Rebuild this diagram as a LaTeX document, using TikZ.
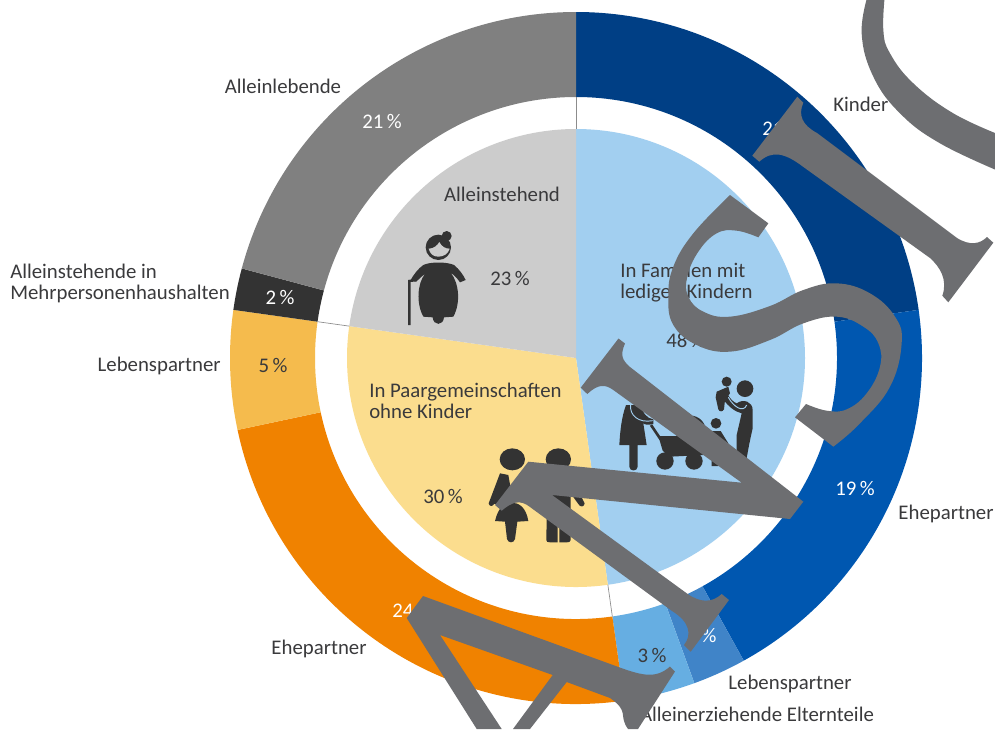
\documentclass[tikz,border=0pt]{standalone}
\usepackage{fontspec}
\setmainfont{Carlito}
\usetikzlibrary{calc}
\definecolor{txt}{HTML}{3A3A3C}
\definecolor{ico}{HTML}{333333}
\definecolor{wm}{HTML}{6D6E71}
\definecolor{rgray}{HTML}{808080}
\definecolor{rdark}{HTML}{333333}
\definecolor{rlorange}{HTML}{F5BB4D}
\definecolor{rorange}{HTML}{F08200}
\definecolor{rlblue}{HTML}{66AEE2}
\definecolor{rmblue}{HTML}{4084C8}
\definecolor{rblue}{HTML}{0057B0}
\definecolor{rnavy}{HTML}{003F85}
\definecolor{pgray}{HTML}{CCCCCC}
\definecolor{pblue}{HTML}{A2CFF0}
\definecolor{pyellow}{HTML}{FBDD8E}
\definecolor{iconline}{HTML}{A2CFF0}
\tikzset{
  lab/.style={text=txt,font=\fontsize{15.6}{15.75}\selectfont,inner sep=0pt,align=left},
  whitelab/.style={lab,text=white},
  watermark/.style={fill=wm,draw=none},
  icon/.style={fill=ico,draw=none},
  divider/.style={draw=black!45,line width=0.5pt}
}
\newcommand{\ringseg}[5]{%
  \fill[#5] ($(576,358)+(#1-90:#3)$) arc[start angle=#1-90,end angle=#2-90,radius=#3*0.75pt]
    -- ($(576,358)+(#2-90:#4)$) arc[start angle=#2-90,end angle=#1-90,radius=#4*0.75pt] -- cycle;}
\newcommand{\pieseg}[4]{%
  \fill[#4] (576,358) -- ($(576,358)+(#1-90:#3)$) arc[start angle=#1-90,end angle=#2-90,radius=#3*0.75pt] -- cycle;}
\begin{document}
\begin{tikzpicture}[x=0.75pt,y=0.75pt,yscale=-1]
\useasboundingbox (0,0) rectangle (995,729);
\clip (0,0) rectangle (995,729);
\fill[white] (0,0) rectangle (995,729);
% outer ring
\ringseg{0}{82}{346}{261}{rnavy}
\ringseg{82}{151}{346}{261}{rblue}
\ringseg{151}{160}{346}{261}{rmblue}
\ringseg{160}{172}{346}{261}{rlblue}
\ringseg{172}{258}{346}{261}{rorange}
\ringseg{258}{278}{346}{261}{rlorange}
\ringseg{278}{285}{346}{261}{rdark}
\ringseg{285}{360}{346}{261}{rgray}
% inner pie
\pieseg{0}{172}{229}{pblue}
\pieseg{172}{278}{229}{pyellow}
\pieseg{278}{360}{229}{pgray}
% dividers across the white gap
\draw[divider] ($(576,358)+(0-90:229)$) -- ($(576,358)+(0-90:261)$);
\draw[divider] ($(576,358)+(172-90:229)$) -- ($(576,358)+(172-90:261)$);
\draw[divider] ($(576,358)+(278-90:229)$) -- ($(576,358)+(278-90:261)$);
% labels
\node[lab] (n1) at (283,86) {Alleinlebende};
\node[whitelab] (n2) at (382,121) {21\,\%};
\node[lab,anchor=west] (n3) at (833,104) {Kinder};
\node[whitelab] (n4) at (782,128) {21\,\%};
\node[lab] (n5) at (502,194) {Alleinstehend};
\node[lab] (n6) at (510,278) {23\,\%};
\node[lab,anchor=west] (n7) at (10,283) {Alleinstehende in\\Mehrpersonenhaushalten};
\node[whitelab] (n8) at (280,297) {2\,\%};
\node[lab,anchor=east] (n9) at (221,366) {Lebenspartner};
\node[lab] (n10) at (273,365) {5\,\%};
\node[lab,anchor=west] (n11) at (620,282.5) {In Familien mit\\ledigen Kindern};
\node[lab] (n12) at (686,340) {48\,\%};
\node[lab,anchor=west] (n13) at (369,400.5) {In Paargemeinschaften\\ohne Kinder};
\node[lab] (n14) at (443,496) {30\,\%};
\node[whitelab] (n15) at (855,488) {19\,\%};
\node[lab] (n16) at (946,514) {Ehepartner};
\node[lab] (n17) at (319,649) {Ehepartner};
\node[whitelab] (n18) at (412,610) {24\,\%};
\node[lab] (n19) at (652,655) {3\,\%};
\node[whitelab] (n20) at (702,635) {2\,\%};
\node[lab] (n21) at (790,684) {Lebenspartner};
\node[lab] (n22) at (757,714) {Alleinerziehende Elternteile};
% grandmother icon
\begin{scope}[shift={(380,200)},scale=1/3]
  \fill[icon] (175,142) circle[radius=38*0.75pt];
  \fill[icon] (200,108) circle[radius=15*0.75pt];
  \fill[pgray] (146,146) .. controls (162,146) and (172,136) .. (178,126) .. controls (185,140) and (196,146) .. (209,146) .. controls (205,162) and (190,170) .. (175,170) .. controls (160,170) and (150,162) .. (146,146) -- cycle;
  \fill[icon] (130,195) .. controls (150,185) and (200,185) .. (222,195) .. controls (238,208) and (250,225) .. (257,240) -- (240,247) .. controls (232,235) and (222,225) .. (212,218) .. controls (238,250) and (242,310) .. (220,350) -- (192,352) .. controls (190,378) and (160,378) .. (158,352) -- (130,350) .. controls (108,310) and (112,250) .. (135,222) .. controls (125,228) and (115,240) .. (108,245) -- (92,240) .. controls (100,225) and (115,205) .. (130,195) -- cycle;
  \fill[icon] (84,375) -- (84,240) -- (110,236) -- (110,244) -- (92,246) -- (92,375) -- cycle;
\end{scope}
% family and couple icons
\begin{scope}[shift={(470,360)},scale=1/3]
  % mother
  \fill[icon] (490,95) circle[radius=25*0.75pt];
  \fill[icon] (468,135) -- (510,135) .. controls (520,160) and (530,175) .. (550,178) -- (550,192) .. controls (535,195) and (525,195) .. (520,190) -- (530,255) -- (503,255) -- (503,320) .. controls (503,335) and (478,335) .. (478,320) -- (478,255) -- (448,255) .. controls (450,215) and (455,170) .. (468,135) -- cycle;
  \draw[iconline,line width=0.7pt] (482,135) .. controls (478,165) and (505,190) .. (548,182);
  % stroller
  \draw[ico,line width=2pt] (543,195) -- (572,238);
  \fill[icon] (565,228) -- (650,228) -- (700,285) -- (600,290) -- (578,272) -- cycle;
  \fill[icon] (662,212) circle[radius=45*0.75pt];
  \fill[icon] (585,303) circle[radius=26*0.75pt];
  \fill[icon] (672,303) circle[radius=26*0.75pt];
  % child
  \fill[icon] (738,190) circle[radius=16*0.75pt];
  \fill[icon] (722,213) -- (752,213) -- (775,250) -- (745,318) -- (725,318) -- (725,250) -- cycle;
  % father and baby
  \fill[icon] (825,86) circle[radius=25*0.75pt];
  \fill[icon] (770,65) circle[radius=15*0.75pt];
  \fill[icon] (740,95) -- (775,80) -- (780,100) -- (765,120) -- (762,148) .. controls (758,156) and (748,156) .. (745,148) -- (737,112) -- cycle;
  \fill[icon] (800,130) .. controls (820,115) and (848,125) .. (848,150) -- (848,205) .. controls (840,240) and (835,265) .. (830,295) -- (800,295) -- (800,225) -- (815,160) .. controls (795,155) and (775,140) .. (760,118) -- (772,102) .. controls (782,118) and (790,126) .. (800,130) -- cycle;
  \draw[iconline,line width=0.7pt] (775,112) .. controls (790,140) and (820,160) .. (830,135);
  % woman of the couple
  \fill[icon] (127,298) ellipse[x radius=38*0.75pt,y radius=33*0.75pt];
  \fill[icon] (90,340) -- (115,345) -- (130,430) -- (100,430) -- (72,432) .. controls (68,440) and (58,440) .. (56,430) -- cycle;
  \fill[icon] (75,483) .. controls (85,440) and (105,428) .. (125,428) .. controls (145,428) and (168,440) .. (175,483) -- (142,485) -- (135,537) .. controls (132,550) and (114,550) .. (111,537) -- (105,485) -- cycle;
  % man of the couple
  \fill[icon] (265,298) ellipse[x radius=38*0.75pt,y radius=33*0.75pt];
  \fill[icon] (232,345) -- (300,345) -- (344,430) .. controls (342,442) and (330,442) .. (325,432) -- (302,400) -- (302,540) .. controls (302,546) and (296,547) .. (290,547) -- (268,547) -- (268,470) -- (263,470) -- (263,547) -- (240,547) .. controls (232,547) and (229,545) .. (229,540) -- cycle;
\end{scope}
% watermark letters
\fill[watermark] (423,596) -- (613,665) .. controls (640,675) and (655,680) .. (670,666.5) -- (675,671.5) -- (638,729) -- (628,729) .. controls (618,715) and (630,712) .. (610,698) -- (566.7,682) -- (530,729) -- (513,729) -- (552.7,675) -- (440,635) -- (501.7,729) -- (476.7,729) -- (406.7,618) -- cycle;
\fill[watermark] (618.5,338.5) -- (625,343.5) .. controls (620,355) and (622,360) .. (630,367) -- (803.3,501.7) -- (790,519) -- (552,495) -- (686.7,593.3) .. controls (700,603) and (712,603) .. (721.7,594) -- (729,600) -- (690.7,651.7) -- (684,645) .. controls (692,635) and (690,622) .. (672,611) -- (530,507) .. controls (520,499) and (512,502) .. (501.7,510.7) -- (495,505) -- (528.3,461.7) -- (741.7,482.7) -- (613.3,390) .. controls (605,384) and (598,384) .. (587.3,394) -- (580.7,387.7) -- cycle;
\begin{scope}[shift={(570,180)},scale=1/3]
  \fill[watermark] (480,45) -- (595,130) -- (565,172)
    -- plot[smooth,tension=0.7] coordinates {(565,172) (500,152) (440,160) (385,215) (352,290) (355,350) (400,395) (480,410) (600,378) (700,330) (800,310) (900,340) (975,410) (995,490) (960,620) (870,730) (790,800)}
    -- (675,712) -- (708,672)
    -- plot[smooth,tension=0.7] coordinates {(708,672) (770,692) (830,688) (890,640) (930,560) (925,490) (880,440) (800,410) (700,430) (600,480) (480,515) (380,495) (310,435) (295,350) (310,260) (370,160) (480,45)}
    -- cycle;
\end{scope}
\fill[watermark] (797.3,96.7) -- (803.3,102.7) .. controls (798,115) and (802,125) .. (817,133) -- (957,238) .. controls (970,246) and (980,244) .. (987,237) -- (993.3,242.7) -- (948.3,302.3) -- (942.3,295.7) .. controls (948,280) and (940,267) .. (930,258) -- (803,166.7) .. controls (785,153) and (772,150) .. (759.3,161.7) -- (752.3,155.7) -- cycle;
\begin{scope}[shift={(700,0)},scale=1/3]
  \fill[watermark] plot[smooth,tension=0.7] coordinates {(505,-20) (485,100) (520,230) (600,340) (720,430) (900,515)}
    -- plot[smooth,tension=0.7] coordinates {(900,405) (760,340) (640,250) (570,160) (550,90) (555,-20)} -- cycle;
\end{scope}
\end{tikzpicture}
\end{document}
